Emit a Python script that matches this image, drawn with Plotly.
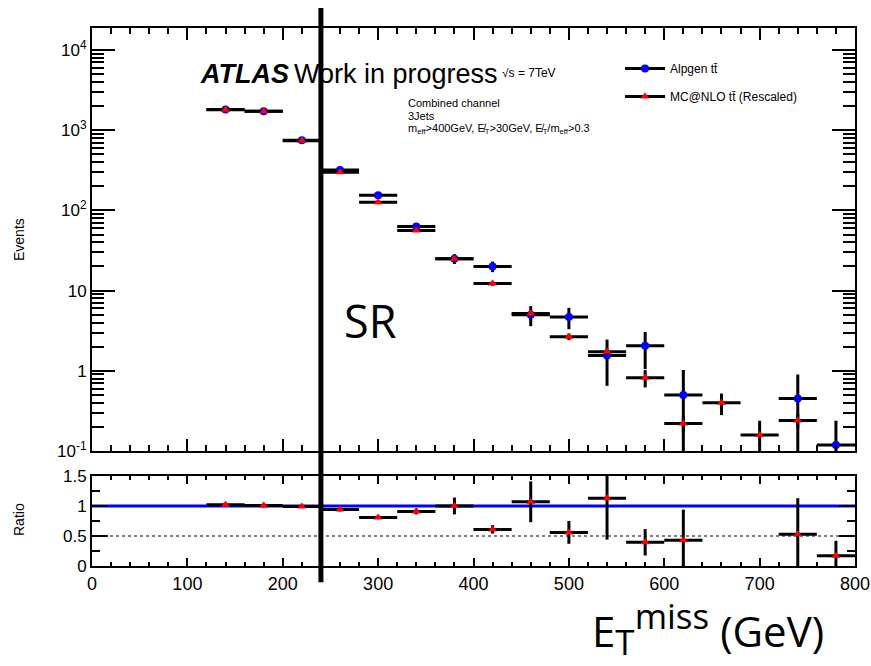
import plotly.graph_objects as go

# ---------------- data ----------------
bin_centers = [140, 180, 220, 260, 300, 340, 380, 420, 460, 500, 540, 580, 620, 660, 700, 740, 780]
bin_half = [20] * len(bin_centers)

alpgen = [1820, 1730, 750, 320, 155, 63, 25, 20, 5.0, 4.7, 1.55, 2.05, 0.5, None, None, 0.45, 0.119]
alpgen_err = [40, 40, 25, 12, 8, 4, 3.5, 3.0, 1.4, 1.4, 0.9, 1.0, 0.52, 0, 0, 0.45, 0.12]

mcnlo = [1800, 1720, 740, 300, 126, 56, 25, 12.3, 5.2, 2.66, 1.73, 0.82, 0.22, 0.40, 0.158, 0.24, None]
mcnlo_err = [20, 20, 10, 5, 3, 2, 1.5, 0.8, 0.4, 0.25, 0.15, 0.2, 0.05, 0.12, 0.08, 0.05, 0]

ratio_x = [140, 180, 220, 260, 300, 340, 380, 420, 460, 500, 540, 580, 620, 740, 780]
ratio = [1.02, 1.01, 0.99, 0.94, 0.81, 0.91, 1.00, 0.61, 1.07, 0.56, 1.13, 0.395, 0.43, 0.53, 0.17]
ratio_err = [0.02, 0.02, 0.02, 0.03, 0.03, 0.05, 0.14, 0.07, 0.34, 0.19, 0.69, 0.22, 0.51, 0.6, 0.25]
ratio_half = [20] * len(ratio_x)

y_tickvals = [0.1, 1, 10, 100, 1000, 10000]
y_ticktext = ["10<sup>-1</sup>", "1", "10", "10<sup>2</sup>", "10<sup>3</sup>", "10<sup>4</sup>"]
y_minor = [m * d for d in [0.1, 1, 10, 100, 1000, 10000] for m in range(2, 10)]
x_tickvals = [0, 100, 200, 300, 400, 500, 600, 700, 800]
r_tickvals = [0, 0.5, 1, 1.5]
r_ticktext = ["0", "0.5", "1", "1.5"]
sr_boundary = 240

FONT = "Liberation Sans, Arial, Helvetica, sans-serif"

fig = go.Figure()

# Alpgen (blue circles)
fig.add_trace(go.Scatter(
    x=bin_centers, y=alpgen, mode="markers", xaxis="x", yaxis="y",
    marker=dict(symbol="circle", size=8, color="#0000ff"),
    error_x=dict(type="data", array=bin_half, color="black", thickness=3, width=0),
    error_y=dict(type="data", array=alpgen_err, color="black", thickness=3, width=0),
    showlegend=False, cliponaxis=True))
# MC@NLO (red triangles)
fig.add_trace(go.Scatter(
    x=bin_centers, y=mcnlo, mode="markers", xaxis="x", yaxis="y",
    marker=dict(symbol="triangle-up", size=8, color="#ff0000"),
    error_x=dict(type="data", array=bin_half, color="black", thickness=3, width=0),
    error_y=dict(type="data", array=mcnlo_err, color="black", thickness=3, width=0),
    showlegend=False, cliponaxis=True))

# legend entries
fig.add_trace(go.Scatter(x=[None], y=[None], mode="lines+markers", xaxis="x", yaxis="y",
                         name="Alpgen tt\u0304", legendgroup="a",
                         line=dict(color="black", width=3),
                         marker=dict(symbol="circle", size=8, color="#0000ff")))
fig.add_trace(go.Scatter(x=[None], y=[None], mode="lines+markers", xaxis="x", yaxis="y",
                         name="MC@NLO tt\u0304 (Rescaled)", legendgroup="b",
                         line=dict(color="black", width=3),
                         marker=dict(symbol="triangle-up", size=8, color="#ff0000")))

# ratio
fig.add_trace(go.Scatter(
    x=ratio_x, y=ratio, mode="markers", xaxis="x2", yaxis="y2",
    marker=dict(symbol="triangle-up", size=8, color="#ff0000"),
    error_x=dict(type="data", array=ratio_half, color="black", thickness=3, width=0),
    error_y=dict(type="data", array=ratio_err, color="black", thickness=3, width=0),
    showlegend=False, cliponaxis=True))

top_dom = [0.2138, 1.0]
bot_dom = [0.0, 0.1673]

fig.update_layout(
    width=871, height=666,
    margin=dict(l=92, r=16, t=28, b=100, autoexpand=False),
    paper_bgcolor="white", plot_bgcolor="white",
    font=dict(family=FONT, color="black", size=14),
    xaxis=dict(domain=[0, 1], anchor="y", range=[0, 800], showticklabels=False, automargin=False,
               tickvals=x_tickvals, ticks="inside", ticklen=12, tickwidth=2, tickcolor="black",
               minor=dict(dtick=20, tick0=0, ticks="inside", ticklen=6, tickwidth=1.5, tickcolor="black"),
               showline=True, linecolor="black", linewidth=2, mirror="ticks",
               showgrid=False, zeroline=False),
    yaxis=dict(domain=top_dom, anchor="x", type="log", range=[-1, 4.275], automargin=False,
               tickmode="array", tickvals=y_tickvals, ticktext=y_ticktext,
               ticks="inside", ticklen=23, tickwidth=2, tickcolor="black",
               minor=dict(tickmode="array", tickvals=y_minor, ticks="inside", ticklen=12,
                          tickwidth=1.5, tickcolor="black", showgrid=False),
               showline=True, linecolor="black", linewidth=2, mirror="ticks",
               showgrid=False, zeroline=False, tickfont=dict(size=17)),
    xaxis2=dict(domain=[0, 1], anchor="y2", range=[0, 800], matches="x", automargin=False,
                tickvals=x_tickvals, ticks="inside", ticklen=8, tickwidth=2, tickcolor="black",
                minor=dict(dtick=20, tick0=0, ticks="inside", ticklen=4, tickwidth=1.5, tickcolor="black"),
                showline=True, linecolor="black", linewidth=2, mirror="ticks",
                showgrid=False, zeroline=False, tickfont=dict(size=18)),
    yaxis2=dict(domain=bot_dom, anchor="x2", range=[0, 1.5], automargin=False,
                tickmode="array", tickvals=r_tickvals, ticktext=r_ticktext,
                ticks="inside", ticklen=16, tickwidth=2, tickcolor="black",
                minor=dict(dtick=0.25, tick0=0, ticks="inside", ticklen=8, tickwidth=1.5, tickcolor="black"),
                showline=True, linecolor="black", linewidth=2, mirror="ticks",
                showgrid=False, zeroline=False, tickfont=dict(size=17)),
    legend=dict(x=(620 - 92) / 763, y=(566 - 54) / 538, xanchor="left", yanchor="top",
                bgcolor="rgba(0,0,0,0)", font=dict(size=12, family=FONT),
                itemwidth=40, tracegroupgap=9),
)

# reference lines in ratio panel
fig.add_shape(type="line", xref="x2", yref="y2", x0=0, x1=800, y0=1, y1=1,
              line=dict(color="#0000ff", width=3), layer="below")
fig.add_shape(type="line", xref="x2", yref="y2", x0=0, x1=800, y0=0.5, y1=0.5,
              line=dict(color="black", width=1.2, dash="dot"), layer="below")

# SR boundary line
fig.add_shape(type="line", xref="x", yref="paper", x0=sr_boundary, x1=sr_boundary,
              y0=-0.03, y1=1.037, line=dict(color="black", width=5), layer="above")

ann = [
    dict(x=198, y=74, text="<b><i>ATLAS</i></b>", size=27, anchor="left"),
    dict(x=292, y=74, text="Work in progress", size=27, anchor="left"),
    dict(x=500, y=73, text="\u221As = 7TeV", size=12, anchor="left"),
    dict(x=406, y=103, text="Combined channel", size=11, anchor="left"),
    dict(x=406, y=116, text="3Jets", size=11, anchor="left"),
    dict(x=406, y=129, text="m<sub>eff</sub>>400GeV, E\u0338<sub>T</sub>>30GeV, E\u0338<sub>T</sub>/m<sub>eff</sub>>0.3",
         size=11, anchor="left"),
]
for a in ann:
    fig.add_annotation(xref="paper", yref="paper",
                       x=(a["x"] - 92) / 763, y=(566 - a["y"]) / 538,
                       text=a["text"], showarrow=False, xanchor=a["anchor"], yanchor="middle",
                       font=dict(size=a["size"], family=FONT, color="black"))

# axis titles
fig.add_annotation(xref="paper", yref="paper", x=(19 - 92) / 763, y=(566 - 240) / 538,
                   text="Events", textangle=-90, showarrow=False, xanchor="center", yanchor="middle",
                   font=dict(size=14, family=FONT, color="black"))
fig.add_annotation(xref="paper", yref="paper", x=(19 - 92) / 763, y=(566 - 520) / 538,
                   text="Ratio", textangle=-90, showarrow=False, xanchor="center", yanchor="middle",
                   font=dict(size=14, family=FONT, color="black"))

fig.add_annotation(xref="paper", yref="paper", x=(342 - 92) / 763, y=(566 - 321) / 538,
                   text="SR", showarrow=False, xanchor="left", yanchor="middle",
                   font=dict(size=45, family="Open Sans, Lato, sans-serif", color="black"))
fig.add_annotation(xref="paper", yref="paper", x=(590 - 92) / 763, y=(566 - 628) / 538,
                   text=("E<sub><span style='font-size:35px'>T</span></sub>"
                         "<sup><span style='font-size:35px'>miss</span></sup> (GeV)"),
                   showarrow=False, xanchor="left", yanchor="middle",
                   font=dict(size=42, family="Open Sans, Lato, sans-serif", color="black"))

fig.write_html("out.html")
